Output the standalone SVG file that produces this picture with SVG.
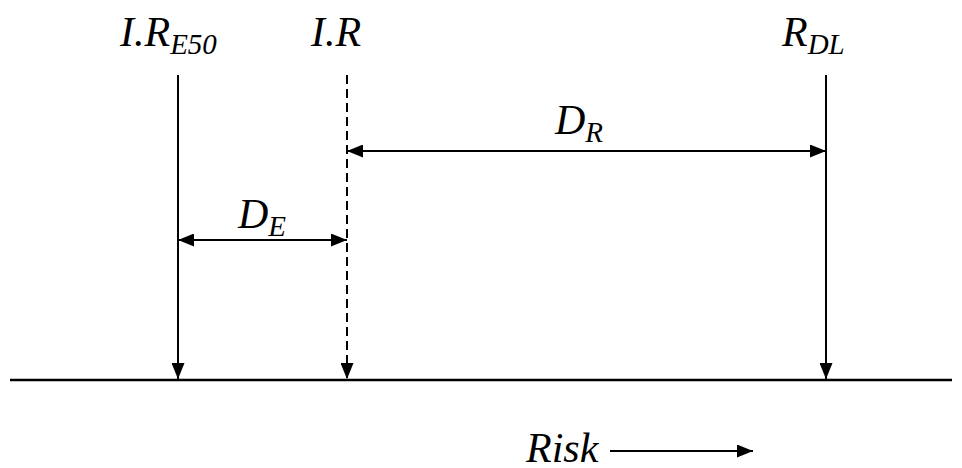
<svg xmlns="http://www.w3.org/2000/svg" width="962" height="468" viewBox="0 0 962 468">
<defs>
<marker id="ah" viewBox="0 0 16 13" refX="16" refY="6.5" markerWidth="16" markerHeight="13" markerUnits="userSpaceOnUse" orient="auto-start-reverse">
<path d="M0,0 L16,6.5 L0,13 Z" fill="#000"/>
</marker>
</defs>
<rect width="962" height="468" fill="#fff"/>
<line x1="10" y1="380" x2="952" y2="380" stroke="#000" stroke-width="2.5"/>
<g id="connectors" stroke="#000" stroke-width="2" fill="none">
<line x1="178" y1="75" x2="178" y2="379" marker-end="url(#ah)"/>
<line x1="347" y1="75" x2="347" y2="379" stroke-dasharray="9,5" marker-end="url(#ah)"/>
<line x1="826" y1="75" x2="826" y2="379" marker-end="url(#ah)"/>
<line x1="347" y1="151" x2="826" y2="151" marker-start="url(#ah)" marker-end="url(#ah)"/>
<line x1="178" y1="240" x2="347" y2="240" marker-start="url(#ah)" marker-end="url(#ah)"/>
<line x1="610" y1="451" x2="753" y2="451" marker-end="url(#ah)"/>
</g>
<text x="120" y="46" font-size="42" font-style="italic" font-family="Liberation Serif">I.R<tspan font-size="29" dy="8">E50</tspan></text>
<text x="311" y="46" font-size="42" font-style="italic" font-family="Liberation Serif">I.R</text>
<text x="782" y="46" font-size="42" font-style="italic" font-family="Liberation Serif">R<tspan font-size="29" dy="8">DL</tspan></text>
<text x="555" y="134" font-size="42" font-style="italic" font-family="Liberation Serif">D<tspan font-size="29" dy="8">R</tspan></text>
<text x="238" y="228" font-size="42" font-style="italic" font-family="Liberation Serif">D<tspan font-size="29" dy="8">E</tspan></text>
<text x="526" y="462" font-size="42" font-style="italic" font-family="Liberation Serif">Risk</text>
</svg>
